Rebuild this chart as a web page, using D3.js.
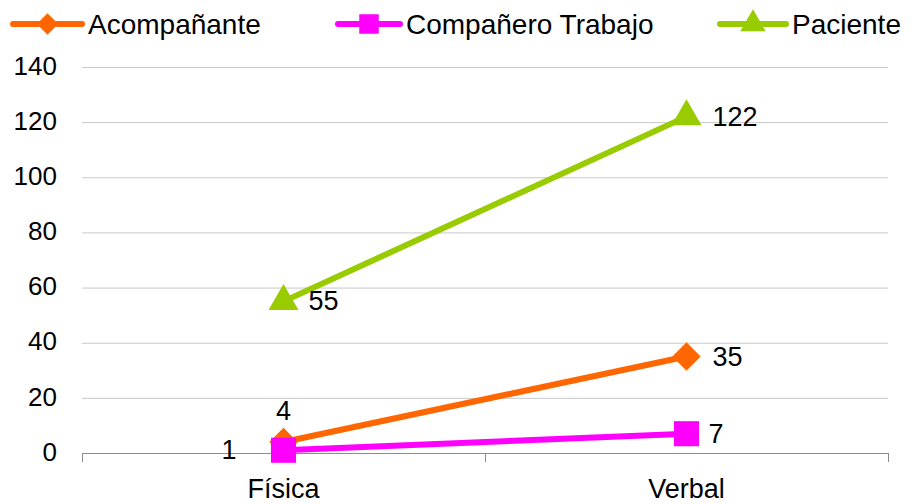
<!DOCTYPE html>
<html>
<head>
<meta charset="utf-8">
<script src="https://cdn.jsdelivr.net/npm/d3@7"></script>
<style>
  html, body { margin: 0; padding: 0; background: #fff; }
  svg { display: block; font-family: "Liberation Sans", Arial, sans-serif; }
</style>
</head>
<body>
<svg id="chart" width="912" height="504"></svg>
<script>
// Violence type by aggressor
const categories = ["Física", "Verbal"];
const seriesNames = ["Acompañante", "Compañero Trabajo", "Paciente"];
const acompanante = [4, 35];
const companeroTrabajo = [1, 7];
const paciente = [55, 122];
const yTicks = [0, 20, 40, 60, 80, 100, 120, 140];

const colors = ["#FF6600", "#FF00FF", "#99CC00"];
const shapes = ["diamond", "square", "triangle"];
const series = [acompanante, companeroTrabajo, paciente].map((values, i) => ({
  name: seriesNames[i], values, color: colors[i], shape: shapes[i]
}));

// marker path: diamond is a square turned 45 degrees
function markerPath(shape, size) {
  if (shape === "diamond") return d3.symbol().type(d3.symbolSquare).size(size)();
  if (shape === "square") return d3.symbol().type(d3.symbolSquare).size(size)();
  return d3.symbol().type(d3.symbolTriangle).size(size)();
}
const markerSize = { diamond: 400, square: 630, triangle: 390 };
const legendSize = { diamond: 230, square: 380, triangle: 280 };

const svg = d3.select("#chart");
const margin = { left: 82, right: 24, top: 67, bottom: 51 };
const W = 912, H = 504;

const x = d3.scaleBand().domain(categories).range([margin.left, W - margin.right]);
const y = d3.scaleLinear().domain([0, 140]).range([H - margin.bottom, margin.top]);

// horizontal gridlines
svg.append("g").selectAll("line").data(yTicks.filter(t => t > 0)).join("line")
  .attr("x1", margin.left).attr("x2", W - margin.right)
  .attr("y1", d => y(d) + 0.5).attr("y2", d => y(d) + 0.5)
  .attr("stroke", "#c8c8c8").attr("stroke-width", 1);

// y axis labels
const yAxis = svg.append("g")
  .attr("transform", `translate(${margin.left},0)`)
  .call(d3.axisLeft(y).tickValues(yTicks).tickSize(0).tickPadding(25).tickFormat(d3.format("d")));
yAxis.select(".domain").remove();
yAxis.selectAll("text").attr("font-size", 26).attr("fill", "#000")
  .attr("font-family", "Liberation Sans, Arial, sans-serif").attr("dy", "0.28em");

// x axis with boundary ticks
const xAxisG = svg.append("g").attr("transform", `translate(0,${y(0)})`);
xAxisG.append("line")
  .attr("x1", margin.left).attr("x2", W - margin.right)
  .attr("y1", 0.5).attr("y2", 0.5).attr("stroke", "#8c8c8c");
const bounds = [margin.left, ...categories.slice(1).map(c => x(c)), W - margin.right];
xAxisG.selectAll(".tk").data(bounds).join("line")
  .attr("x1", d => d + 0.5).attr("x2", d => d + 0.5)
  .attr("y1", 0).attr("y2", 9).attr("stroke", "#8c8c8c");
xAxisG.selectAll(".lbl").data(categories).join("text")
  .attr("x", d => x(d) + x.bandwidth() / 2)
  .attr("y", 45)
  .attr("text-anchor", "middle").attr("font-size", 27).attr("fill", "#000")
  .text(d => d);

// lines and markers
const line = d3.line()
  .x((d, i) => x(categories[i]) + x.bandwidth() / 2)
  .y(d => y(d));

series.forEach(s => {
  const g = svg.append("g");
  g.append("path").datum(s.values)
    .attr("d", line).attr("fill", "none")
    .attr("stroke", s.color).attr("stroke-width", 6)
    .attr("stroke-linejoin", "round");
  g.selectAll("path.m").data(s.values).join("path")
    .attr("class", "m")
    .attr("transform", (d, i) => `translate(${x(categories[i]) + x.bandwidth() / 2},${y(d)})` +
      (s.shape === "diamond" ? " rotate(45)" : ""))
    .attr("d", markerPath(s.shape, markerSize[s.shape]))
    .attr("fill", s.color);
});

// value labels
const labelPos = [
  [{ dx: 0, dy: -22, anchor: "middle" }, { dx: 26, dy: 9, anchor: "start" }],
  [{ dx: -47, dy: 9, anchor: "end" }, { dx: 22, dy: 9, anchor: "start" }],
  [{ dx: 25, dy: 9, anchor: "start" }, { dx: 26, dy: 9, anchor: "start" }]
];
series.forEach((s, si) => {
  svg.append("g").selectAll("text").data(s.values).join("text")
    .attr("x", (d, i) => x(categories[i]) + x.bandwidth() / 2 + labelPos[si][i].dx)
    .attr("y", (d, i) => y(d) + labelPos[si][i].dy)
    .attr("text-anchor", (d, i) => labelPos[si][i].anchor)
    .attr("font-size", 27).attr("fill", "#000")
    .text(d => d);
});

// legend
const legendItems = [
  { x: 10, textX: 88 },
  { x: 335, textX: 406 },
  { x: 717, textX: 792 }
];
const legend = svg.append("g");
series.forEach((s, i) => {
  const li = legendItems[i];
  const g = legend.append("g");
  g.append("line")
    .attr("x1", li.x + 3).attr("x2", li.textX - 6)
    .attr("y1", 24).attr("y2", 24)
    .attr("stroke", s.color).attr("stroke-width", 6).attr("stroke-linecap", "round");
  g.append("path")
    .attr("transform", `translate(${(li.x + li.textX - 3) / 2},24)` +
      (s.shape === "diamond" ? " rotate(45)" : ""))
    .attr("d", markerPath(s.shape, legendSize[s.shape]))
    .attr("fill", s.color);
  g.append("text")
    .attr("x", li.textX).attr("y", 34)
    .attr("font-size", 28).attr("fill", "#000")
    .text(s.name);
});
</script>
</body>
</html>
